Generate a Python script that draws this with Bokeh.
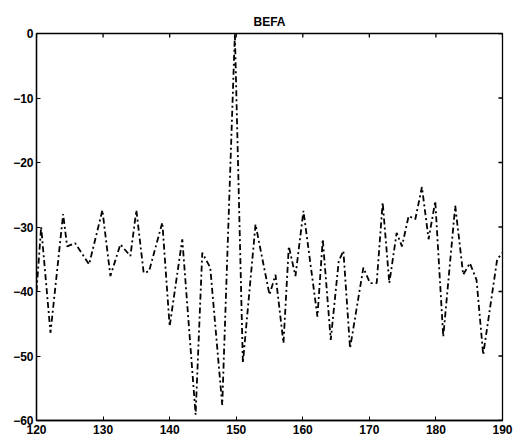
from bokeh.plotting import figure
from bokeh.models import FixedTicker, Range1d
from bokeh.embed import file_html
from bokeh.resources import INLINE

# Sample positions and response levels (dB)
freq = [120, 120.7, 122.1, 124.0, 124.6, 125.8, 127.9, 129.9, 131.1, 132.6,
        134.1, 135.0, 136.1, 136.9, 138.9, 140.0, 141.9, 143.9, 144.9, 146.1,
        147.9, 149.8, 151.0, 152.9, 155.0, 155.9, 157.1, 157.9, 158.9, 160.1,
        162.2, 163.0, 164.2, 165.4, 166.1, 167.1, 169.1, 170.1, 171.1, 172.0,
        173.0, 174.1, 174.9, 175.9, 176.9, 177.9, 178.9, 179.9, 181.1, 182.9,
        184.1, 185.1, 186.1, 187.1, 189.2, 190]
level = [-40.0, -30.0, -46.4, -28.0, -33.0, -32.5, -35.8, -27.4, -37.6, -32.7,
         -34.5, -27.4, -37.1, -36.9, -29.3, -45.4, -31.9, -59.1, -34.0, -36.3,
         -57.6, 0.0, -51.1, -29.6, -40.5, -37.4, -48.0, -33.0, -37.6, -27.5,
         -43.9, -31.9, -47.5, -35.3, -33.7, -48.8, -36.3, -38.7, -38.7, -26.2,
         -38.7, -30.9, -33.0, -28.3, -28.8, -23.8, -31.9, -26.0, -47.0, -26.7,
         -37.4, -35.6, -38.2, -49.8, -35.0, -34.0]

x_ticks = [120, 130, 140, 150, 160, 170, 180, 190]
y_ticks = [0, -10, -20, -30, -40, -50, -60]

X0, X1, Y0, Y1 = 120, 190, -60, 0
W, H = 515, 442
LEFT, RIGHT, TOP, BOTTOM = 36, 13, 33, 22

p = figure(width=W, height=H, output_backend="svg", toolbar_location=None,
           x_range=Range1d(X0, X1), y_range=Range1d(Y0, Y1),
           title="BEFA", min_border_left=LEFT, min_border_right=RIGHT,
           min_border_top=TOP, min_border_bottom=BOTTOM)

p.title.align = "center"
p.title.text_font = "Liberation Sans"
p.title.text_font_size = "12px"
p.title.text_font_style = "bold"
p.title.text_color = "black"
p.title.offset = 0
p.title.standoff = 10

p.grid.visible = False
p.background_fill_color = "white"
p.border_fill_color = "white"
p.outline_line_color = "black"
p.outline_line_width = 1.3

for ax, ticks in ((p.xaxis[0], x_ticks), (p.yaxis[0], y_ticks)):
    ax.ticker = FixedTicker(ticks=ticks)
    ax.major_tick_in = 4
    ax.major_tick_out = 0
    ax.minor_tick_in = 0
    ax.minor_tick_out = 0
    ax.axis_line_color = "black"
    ax.axis_line_width = 1.3
    ax.major_label_text_font = "Liberation Sans"
    ax.major_label_text_font_size = "12px"
    ax.major_label_text_font_style = "bold"
    ax.major_label_text_color = "black"
p.xaxis[0].major_label_standoff = 4
p.yaxis[0].major_label_standoff = 3

# inward tick marks along the top and right edges of the box
tick_px = 4
dx = tick_px * (X1 - X0) / (W - LEFT - RIGHT)
dy = tick_px * (Y1 - Y0) / (H - TOP - BOTTOM)
p.segment(x0=x_ticks, y0=[Y1] * len(x_ticks), x1=x_ticks, y1=[Y1 - dy] * len(x_ticks),
          line_color="black", line_width=1.3)
p.segment(x0=[X1] * len(y_ticks), y0=y_ticks, x1=[X1 - dx] * len(y_ticks), y1=y_ticks,
          line_color="black", line_width=1.3)

p.line(freq, level, line_color="black", line_width=1.8, line_dash="6 3 2 3")

open("out.html", "w").write(file_html(p, INLINE))
